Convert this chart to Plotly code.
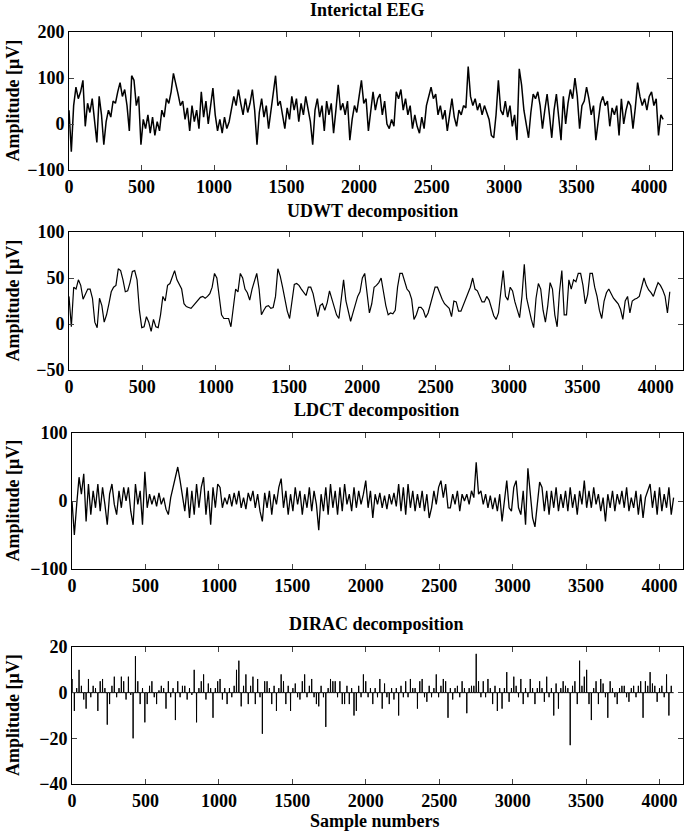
import plotly.graph_objects as go

STEP = 16

eeg = [30, -60, 40, 80, 55, 70, 95, -5, 45, 25, 55, 10, -40, 60, 20, -45,
       5, 30, 15, 50, 45, 70, 90, 60, 75, 40, -15, 105, 95, 40, 60, -45,
       10, -10, 20, -20, 15, -25, 5, -15, 30, 15, 55, 45, 70, 110, 90, 65,
       40, 50, 10, 35, -15, 40, 5, 30, -10, 70, 15, 50, 0, 40, 78, 20,
       -15, 10, -20, 15, -10, 5, 35, 60, 40, 75, 45, 20, 55, 25, 45, 75,
       30, -45, 25, 55, 15, 40, -10, 30, 60, 105, 40, 50, 20, -10, 35, 10,
       60, 30, 55, 5, 45, 20, 60, 35, 5, -45, 30, 55, 15, 40, -15, 50,
       20, 45, -20, 30, 85, 30, 45, 20, 50, -35, 10, 40, 25, 60, 95, 45,
       55, -15, 35, 70, 30, 55, 65, 20, 50, 0, -10, 10, -5, 70, 55, 75,
       30, 55, 20, 40, -10, 20, -5, -20, 15, -10, 40, 60, 80, 55, 65, 20,
       40, 10, 30, -15, 25, 55, 15, -5, 30, 20, 40, 35, 125, 60, 40, 55,
       30, 45, 20, 40, 25, 10, -25, -30, 20, 95, 30, 20, 50, 15, 40, -5,
       20, -35, 120, 85, 30, 0, -30, 25, 65, 55, 70, 40, -10, 30, 65, 20,
       -30, 30, 65, 15, -35, 60, 0, 45, 75, 55, 100, 60, -10, 40, 50, 80,
       55, 20, 40, -35, 10, 45, 60, 40, 50, -5, 35, 20, 40, -25, 55, 0,
       30, 50, 40, -10, 35, 90, 60, 40, 55, 30, 60, 70, 40, 55, -25, 20, 10]

udwt = [30, -3, 40, 38, 48, 42, 27, 32, 38, 38, 28, 2, -4, 28, 20, 2,
        10, 22, 35, 40, 42, 60, 58, 48, 35, 36, 45, 57, 58, 48, 15, -4,
        -3, 8, 2, -8, 5, -3, -4, 10, 30, 25, 42, 44, 50, 58, 48, 42,
        38, 22, 19, 18, 17, 20, 23, 25, 29, 30, 28, 30, 33, 40, 55, 50,
        30, 10, 6, 6, 6, -3, 18, 38, 35, 55, 50, 38, 34, 26, 38, 48,
        55, 38, 10, 15, 19, 20, 17, 18, 30, 60, 52, 40, 26, 14, 6, 26,
        43, 44, 42, 38, 34, 31, 40, 40, 33, 20, 8, 20, 22, 15, 23, 36,
        28, 18, 10, 6, 25, 48, 25, 12, 3, 12, 22, 30, 35, 50, 55, 30,
        12, 22, 40, 42, 45, 50, 35, 20, 10, 12, 11, 15, 40, 55, 55, 45,
        38, 35, 27, 5, 10, 18, 18, 15, 7, 12, 22, 32, 40, 40, 33, 27,
        22, 20, 17, 8, 25, 24, 14, 14, 20, 28, 33, 40, 50, 38, 36, 30,
        24, 24, 30, 26, 18, 9, 5, 12, 35, 58, 30, 26, 40, 36, 24, 16,
        7, 30, 65, 28, 15, 5, -4, 28, 44, 38, 15, 2, 20, 45, 38, 10,
        -3, 35, 58, 10, 10, 48, 38, 48, 46, 55, 55, 42, 22, 32, 55, 55,
        40, 30, 15, 6, 25, 34, 38, 33, 28, 25, 22, 16, 5, 25, 30, 12,
        25, 27, 28, 30, 40, 50, 42, 37, 34, 30, 38, 45, 42, 37, 30, 12, 35]

ldct = [0, -50, -5, 35, 10, 40, -30, 25, -20, 15, -10, 25, -15, 20, -5, -35,
        10, 25, -5, -20, 15, -10, 20, 0, 20, -15, -35, 25, -5, 15, -35, 43,
        -10, 10, -5, 8, -8, 12, -5, 5, -12, -20, 5, 20, 35, 50, 30, 10,
        -15, 20, -25, 15, -20, 25, -10, 20, 35, -20, 15, -35, 20, -10, 25, 20,
        -10, 5, -5, 10, -8, 12, -5, 15, -10, 5, -12, 12, 0, 15, -10, 10,
        -15, -30, 12, -10, 15, -20, 10, -5, 20, 33, -10, 15, -20, 10, -15, 20,
        -5, 15, -20, 10, -10, 20, -15, 15, -5, -43, 10, -15, 20, -20, 25, -10,
        15, -20, 20, -15, 25, -5, 10, -15, 20, -10, 15, -5, 10, 30, -10, 15,
        -25, 10, -5, 12, -10, 8, -12, 10, -5, 12, -8, 25, -15, 20, -20, 25,
        -10, 15, -15, 10, -10, 15, -15, 10, -25, -10, 15, -5, 20, 30, 5, 25,
        -10, -10, 10, -5, 15, -15, 10, 0, 10, -5, 15, 5, 57, 10, 15, -5,
        10, -10, 8, -12, 5, -15, 10, -30, 5, 30, -10, -15, 20, 30, -10, -20,
        15, -35, 48, 10, -25, -38, 0, 28, 20, -15, 15, -20, 15, -10, 20, -15,
        10, -10, 15, -15, 20, -10, 10, -20, 15, -5, 30, -10, 15, -10, 20, -5,
        10, -15, 5, -30, 10, -10, 15, -15, 10, -5, 15, -10, 20, -15, 5, -10,
        15, -20, 10, -25, 5, 15, 25, -10, 15, -20, 20, -15, 10, -10, 20, -20, 5]

dirac = [6, -8, 2, 10, 3, -3, -7, 6, -2, 3, 2, -8, 5, 6, 2, -14,
         -5, 3, 7, -2, 2, 7, 5, -3, 7, -1, -20, 16, 5, -5, 2, -13,
         -5, 3, 5, -2, -5, 1, 3, 2, -7, 5, -2, 2, -12, 5, -2, 3,
         3, -3, 2, -1, 10, -13, 2, 5, 8, -3, 4, 2, -11, 2, 5, 6,
         -3, 2, -5, 2, -2, 3, 10, 14, -6, 3, 8, -5, 3, 7, -5, 6,
         -2, -18, 5, 5, 2, -5, 3, -8, 2, 8, 5, -5, 3, -8, 2, 4,
         -2, -3, 5, 8, -2, 3, 6, -2, -5, -6, 3, -2, -15, 2, 6, 5,
         5, -2, 5, -5, -5, 3, -5, 2, -10, -8, 3, -2, 8, 5, -2, 2,
         -5, 2, -2, 6, -7, 4, -2, -5, 2, -3, 2, -10, 3, -2, 5, -2,
         6, 2, 2, -7, 5, 6, -2, -4, 3, -2, 2, 8, -2, 3, 6, 5,
         -11, 2, -3, 2, 3, -2, 5, 2, -9, 2, 3, 3, 17, 5, -2, 5,
         -2, 6, 2, -5, 3, -8, 2, -7, 2, 9, -4, 2, 7, 3, -2, 6,
         -5, 2, -2, 6, 2, -5, 2, 5, 2, -4, 7, -2, 2, -10, 4, -7,
         2, 5, 3, 2, -23, 3, 5, -5, 14, 3, 7, 10, -5, -12, 2, 5,
         -5, 6, 4, -2, -11, 5, 2, -2, -5, 2, 3, 3, -2, -4, 2, 3,
         -2, 3, 5, -11, 5, 3, 9, 4, 3, -4, 2, 3, -2, 8, -10, 3, 0]

titles = ["Interictal EEG", "UDWT decomposition", "LDCT decomposition", "DIRAC decomposition"]
y_ranges = [[-100, 200], [-50, 100], [-100, 100], [-40, 20]]
y_ticks = [[-100, 0, 100, 200], [-50, 0, 50, 100], [-100, 0, 100], [-40, -20, 0, 20]]
x_ticks = [0, 500, 1000, 1500, 2000, 2500, 3000, 3500, 4000]
y_label = "Amplitude [μV]"
x_label = "Sample numbers"

W, H = 685, 833
FONT = "Liberation Serif"

# panel boxes in pixels: left, right, top, bottom, x-range max
boxes = [(69, 672, 32, 170, 4157),
         (69, 683, 232, 370, 4186),
         (72, 683, 433, 569, 4160),
         (72, 683, 647, 784, 4160)]
title_pos = [(367, 10), (372, 211), (376, 410), (376, 624)]
line_w = [1.5, 1.2, 1.3]

fig = go.Figure()

series = [eeg, udwt, ldct]
for k, s in enumerate(series):
    xs = [i * STEP for i in range(len(s))]
    fig.add_trace(go.Scatter(x=xs, y=s, mode="lines",
                             line=dict(color="black", width=line_w[k]),
                             xaxis=f"x{k+1}" if k else "x", yaxis=f"y{k+1}" if k else "y",
                             showlegend=False, hoverinfo="skip"))

dx, dy = [], []
for i, a in enumerate(dirac):
    x = i * STEP
    dx += [x - 1, x, x + 1]
    dy += [0, a, 0]
fig.add_trace(go.Scatter(x=dx, y=dy, mode="lines", line=dict(color="black", width=1),
                         xaxis="x4", yaxis="y4", showlegend=False, hoverinfo="skip"))

tickfont = dict(family=FONT, size=18, color="black", weight="bold")
layout = dict(width=W, height=H, margin=dict(l=0, r=0, t=0, b=0, autoexpand=False),
              template="none",
              paper_bgcolor="white", plot_bgcolor="white", showlegend=False)
annotations = []
for k, (l, r, t, b, xmax) in enumerate(boxes):
    sfx = "" if k == 0 else str(k + 1)
    layout["xaxis" + sfx] = dict(domain=[l / W, r / W], range=[0, xmax], anchor="y" + sfx,
                                 tickvals=x_ticks, ticks="inside", ticklen=5, automargin=False,
                                 showline=True, mirror="allticks", linecolor="black", linewidth=1,
                                 showgrid=False, zeroline=False, tickfont=tickfont)
    layout["yaxis" + sfx] = dict(domain=[1 - b / H, 1 - t / H], range=y_ranges[k], anchor="x" + sfx,
                                 tickvals=y_ticks[k], ticks="inside", ticklen=5, automargin=False,
                                 showline=True, mirror="allticks", linecolor="black", linewidth=1,
                                 showgrid=False, zeroline=False, tickfont=tickfont)
    tx, ty = title_pos[k]
    annotations.append(dict(text=titles[k], x=tx / W, y=1 - ty / H, xref="paper", yref="paper",
                            xanchor="center", yanchor="middle", showarrow=False,
                            font=dict(family=FONT, size=18, color="black", weight="bold")))
    annotations.append(dict(text=y_label, x=12.5 / W, y=1 - (t + b) / 2 / H, xref="paper", yref="paper",
                            xanchor="center", yanchor="middle", showarrow=False, textangle=-90,
                            font=dict(family=FONT, size=18, color="black", weight="bold")))
annotations.append(dict(text=x_label, x=375 / W, y=1 - 821 / H, xref="paper", yref="paper",
                        xanchor="center", yanchor="middle", showarrow=False,
                        font=dict(family=FONT, size=18, color="black", weight="bold")))
layout["annotations"] = annotations
fig.update_layout(**layout)

fig.write_html("out.html", config={"displayModeBar": False},
               post_script="document.body.style.margin='0';")
